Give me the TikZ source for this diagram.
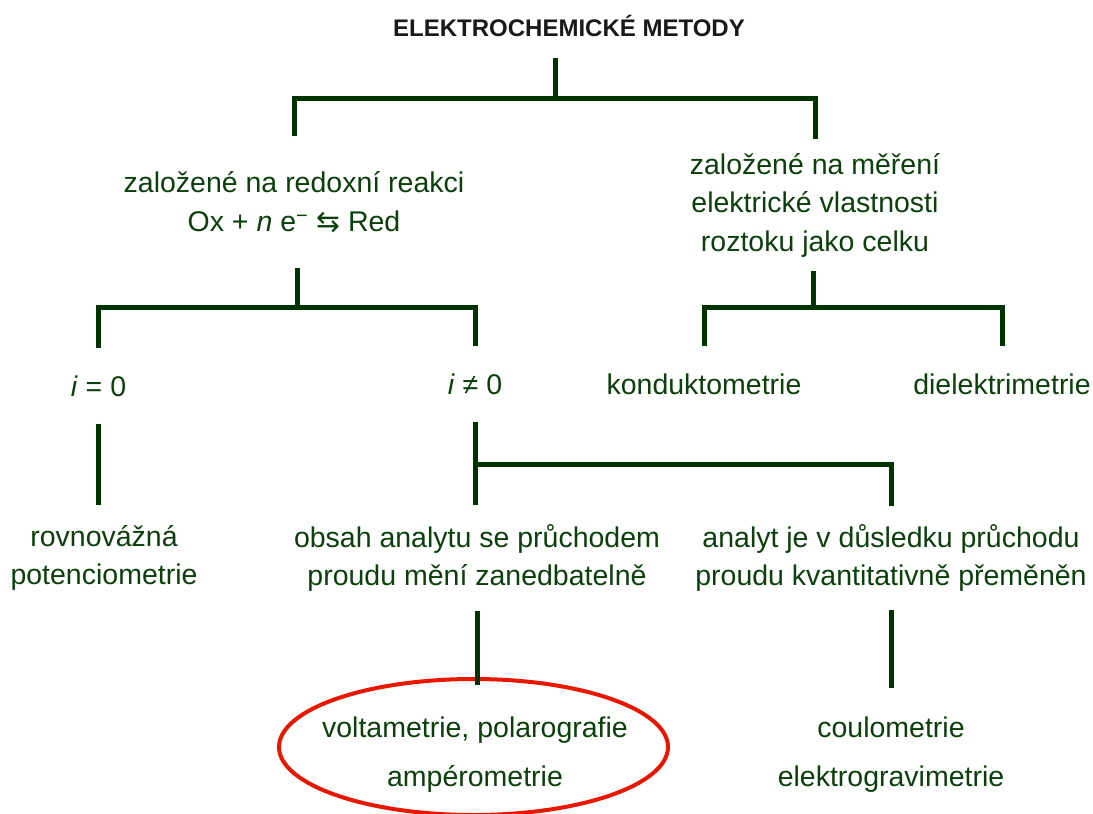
\documentclass[tikz,border=0pt]{standalone}
\usepackage{fontspec}
\setmainfont{Liberation Sans}
\newfontfamily\arrowfont{DejaVu Sans}
\usetikzlibrary{shapes.geometric}
\definecolor{linegreen}{HTML}{003300}
\definecolor{textgreen}{HTML}{0B3F0B}
\definecolor{ringred}{HTML}{E81800}

\tikzset{
  box/.style={text=textgreen, align=center, inner xsep=2pt, inner ysep=27pt,
    font=\fontsize{28.5}{38.5}\selectfont},
  tallbox/.style={box, font=\fontsize{28.5}{49}\selectfont},
  link/.style={draw=linegreen, line width=5pt},
  ring/.style={ellipse, draw=ringred, line width=4pt, inner sep=0pt,
    minimum width=389pt, minimum height=136pt}
}

\begin{document}
\begin{tikzpicture}[x=1pt,y=-1pt]
  \useasboundingbox (0,0) rectangle (1093,814);

  \node[font=\fontsize{24}{29}\selectfont\bfseries, text=black!90, inner ysep=21pt] (metody) at (569,26) {ELEKTROCHEMICKÉ METODY};

  \node[box, inner ysep=35pt] (redox) at (294,202) {založené na redoxní reakci\\Ox + \textit{n} e\textsuperscript{−} {\arrowfont ⇆} Red};
  \node[box, inner ysep=14pt] (mereni) at (815,205) {založené na měření\\elektrické vlastnosti\\roztoku jako celku};

  \node[box] (nula) at (98.5,386) {\textit{i} = 0};
  \node[box] (nenula) at (475,384) {\textit{i} ≠ 0};
  \node[box] (kondukt) at (704,384) {konduktometrie};
  \node[box] (dielektr) at (1002,384) {dielektrimetrie};

  \node[box, inner ysep=20pt] (rovnov) at (104,558) {rovnovážná\\potenciometrie};
  \node[box, inner ysep=19pt] (zanedb) at (477,558) {obsah analytu se průchodem\\proudu mění zanedbatelně};
  \node[box, inner ysep=18pt] (premen) at (891,558) {analyt je v důsledku průchodu\\proudu kvantitativně přeměněn};

  \node[ring] (kruh) at (473.5,747) {};
  \node[tallbox] (volta) at (475,755) {voltametrie, polarografie\\ampérometrie};
  \node[tallbox, inner ysep=29pt] (coulo) at (891,755) {coulometrie\\elektrogravimetrie};

  % rozvetveni
  \coordinate (f0) at (555,98);
  \coordinate (f1) at (297,307);
  \coordinate (f2) at (813,307);
  \coordinate (f3) at (476,464);

  \draw[link] (metody.south -| f0) -- (f0);
  \draw[link] (redox) |- (f0) -| (mereni);
  \draw[link] (redox.south -| f1) -- (f1);
  \draw[link] (nula) |- (f1) -| (nenula);
  \draw[link] (mereni.south -| f2) -- (f2);
  \draw[link] (kondukt) |- (f2) -| (dielektr);
  \draw[link] (nula) -- (nula |- rovnov.north);
  \draw[link] (nenula) -- (nenula |- zanedb.north);
  \draw[link] (f3) -| (premen);
  \draw[link, shorten >=-8pt] (zanedb) -- (zanedb |- kruh.north);
  \draw[link] (premen) -- (coulo);
\end{tikzpicture}
\end{document}
